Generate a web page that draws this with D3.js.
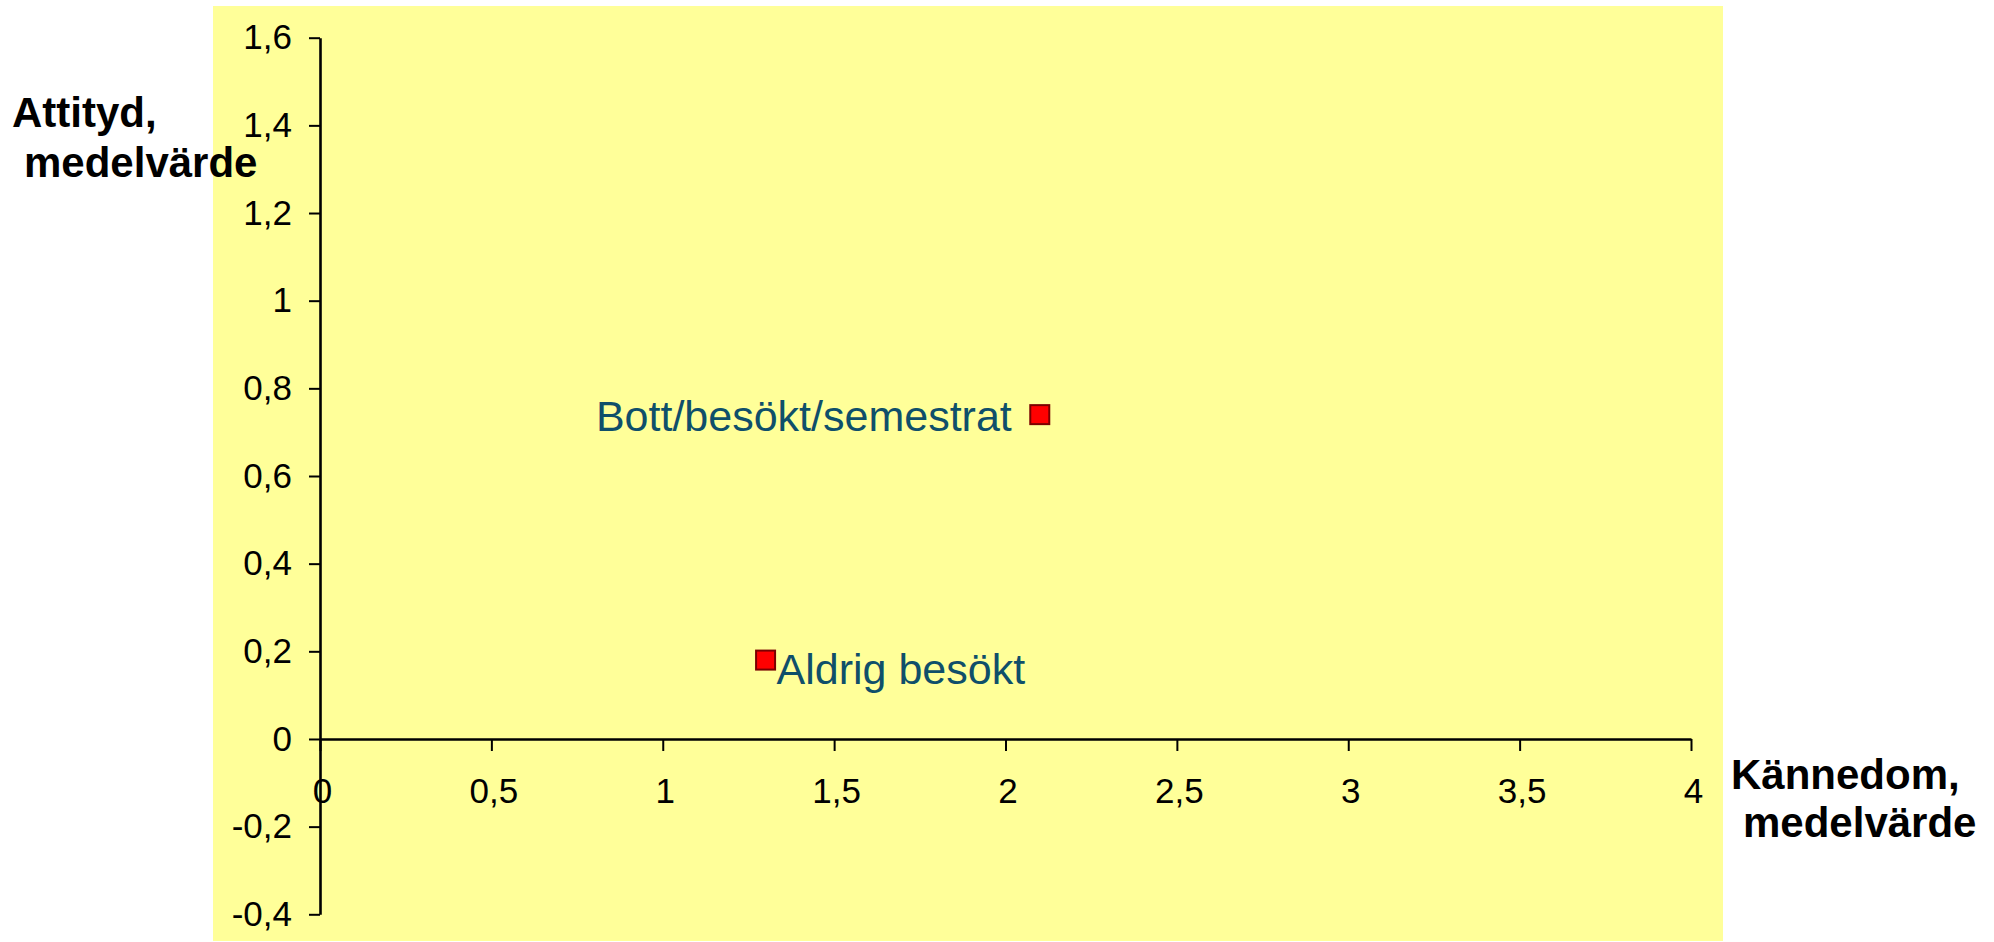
<!DOCTYPE html>
<html>
<head>
<meta charset="utf-8">
<title>Kännedom och attityd</title>
<style type="text/css">
    body { margin: 0; background: #fff; }
    text { font-family: Arial, "Liberation Sans", sans-serif; }
    .axis .domain { stroke: #000; stroke-width: 2.6px; }
    .axis .tick line { stroke: #000; stroke-width: 2px; }
    .axis .tick text { font-size: 35px; fill: #000; }
    .title { font-size: 42px; font-weight: bold; fill: #000; }
    .lbl { font-size: 43px; fill: #0f4f6a; }
</style>
</head>
<body>
<svg id="viz"></svg>

<script src="https://d3js.org/d3.v7.min.js"></script>
<script>

// values
var groups   = ["Bott/besökt/semestrat", "Aldrig besökt"];
var kannedom = [2.1, 1.3];
var attityd  = [0.74, 0.18];

var xTicks = [0, 0.5, 1, 1.5, 2, 2.5, 3, 3.5, 4];
var yTicks = [-0.4, -0.2, 0, 0.2, 0.4, 0.6, 0.8, 1, 1.2, 1.4, 1.6];

var width = 1994,
    height = 942;

var svg = d3.select("#viz")
    .attr("width", width)
    .attr("height", height);

// swedish number format: comma as decimal mark, plain hyphen minus
var sv = d3.formatLocale({decimal: ",", thousands: " ", grouping: [3], currency: ["", " kr"], minus: "-"});
var fmt = sv.format(".1~f");

var x = d3.scaleLinear().domain([0, 4]).range([320, 1691]),
    y = d3.scaleLinear().domain([-0.4, 1.6]).range([914.3, 37.7]);

// plot area background
svg.append("rect")
    .attr("x", 213)
    .attr("y", 6)
    .attr("width", 1510)
    .attr("height", 935)
    .attr("fill", "#ffff99");

var yAxis = svg.append("g")
    .attr("class", "axis")
    .attr("transform", "translate(" + x(0) + ",0)")
    .call(d3.axisLeft(y).tickValues(yTicks).tickFormat(fmt).tickSize(11).tickSizeOuter(0).tickPadding(17));

var xAxis = svg.append("g")
    .attr("class", "axis")
    .attr("transform", "translate(0," + y(0) + ")")
    .call(d3.axisBottom(x).tickValues(xTicks).tickFormat(fmt).tickSize(12).tickSizeOuter(0).tickPadding(27));

xAxis.selectAll(".tick text").attr("dx", 2);

// axis titles
var yt = svg.append("text").attr("class", "title");
yt.append("tspan").attr("x", 12).attr("y", 127).text("Attityd,");
yt.append("tspan").attr("x", 24).attr("y", 177).text("medelvärde");

var xt = svg.append("text").attr("class", "title");
xt.append("tspan").attr("x", 1731).attr("y", 789).text("Kännedom,");
xt.append("tspan").attr("x", 1743).attr("y", 837).text("medelvärde");

var pts = groups.map(function(g, i) {
    return {name: g, k: kannedom[i], a: attityd[i]};
});

var sz = 19;

svg.append("g").selectAll("rect")
    .data(pts)
    .enter()
    .append("rect")
    .attr("x", function(d) { return x(d.k) - sz / 2; })
    .attr("y", function(d) { return y(d.a) - sz / 2; })
    .attr("width", sz)
    .attr("height", sz)
    .attr("fill", "#ff0000")
    .attr("stroke", "#7a0000")
    .attr("stroke-width", 2);

// first label sits to the left of its point, second one below right
svg.append("g").selectAll("text")
    .data(pts)
    .enter()
    .append("text")
    .attr("class", "lbl")
    .attr("text-anchor", function(d, i) { return i == 0 ? "end" : "start"; })
    .attr("x", function(d, i) { return i == 0 ? x(d.k) - 28 : x(d.k) + 11; })
    .attr("y", function(d, i) { return i == 0 ? y(d.a) + 16 : y(d.a) + 24; })
    .text(function(d) { return d.name; });

</script>
</body>
</html>
